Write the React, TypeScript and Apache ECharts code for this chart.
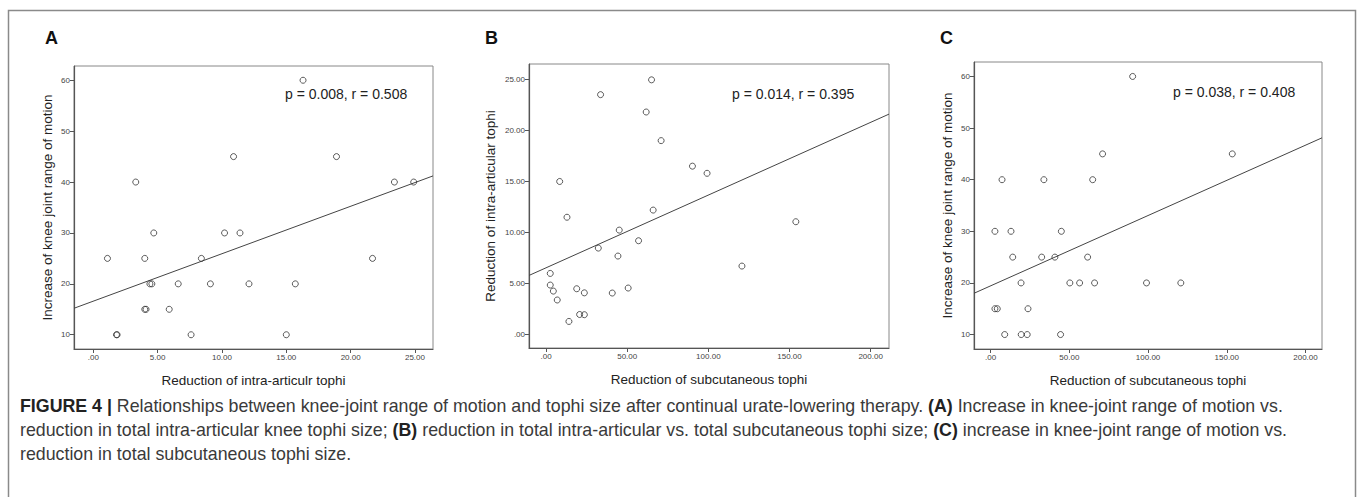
import React, { useEffect, useRef } from "react";
import * as echarts from "echarts";

// ---------- data ----------
const panelLetters = ["A", "B", "C"];

// Panel A: reduction of intra-articular tophi (x) vs increase of knee ROM (y)
const aX = [16.3, 10.9, 18.9, 3.3, 23.4, 24.9, 4.7, 10.2, 11.4, 1.1, 4.0, 8.4, 21.7, 4.4, 4.55, 6.6, 9.1, 12.1, 15.7, 4.0, 4.1, 5.9, 1.8, 1.85, 7.6, 15.0];
const aY = [60, 45, 45, 40, 40, 40, 30, 30, 30, 25, 25, 25, 25, 20, 20, 20, 20, 20, 20, 15, 15, 15, 10, 10, 10, 10];

// Panel B: reduction of subcutaneous tophi (x) vs reduction of intra-articular tophi (y)
const bX = [65, 33.6, 61.7, 70.9, 90.2, 99.2, 8.4, 12.9, 66, 153.9, 45.1, 57, 32.2, 44.3, 120.7, 2.6, 2.6, 4.5, 6.9, 18.9, 23.6, 40.8, 50.6, 20.7, 23.6, 14.1];
const bY = [24.95, 23.5, 21.8, 19.0, 16.5, 15.8, 15.0, 11.5, 12.2, 11.06, 10.24, 9.2, 8.48, 7.7, 6.72, 6.0, 4.86, 4.27, 3.4, 4.5, 4.1, 4.08, 4.57, 1.98, 1.96, 1.3];

// Panel C: reduction of subcutaneous tophi (x) vs increase of knee ROM (y)
const cX = [90.2, 71.1, 153.5, 7.2, 33.8, 64.8, 2.7, 12.9, 44.9, 14, 32.4, 40.8, 61.6, 19.3, 50.3, 56.5, 66, 99, 120.8, 2.7, 4.2, 23.7, 8.9, 19.4, 23.2, 44.4];
const cY = [60, 45, 45, 40, 40, 40, 30, 30, 30, 25, 25, 25, 25, 20, 20, 20, 20, 20, 20, 15, 15, 15, 10, 10, 10, 10];

// fitted regression lines: [intercept, slope]
const fitA = [16.6, 0.932];
const fitB = [6.55, 0.0712];
const fitC = [19.44, 0.1362];

const statsA = "p = 0.008, r = 0.508";
const statsB = "p = 0.014, r = 0.395";
const statsC = "p = 0.038, r = 0.408";

// axes
const xTicksA = [0, 5, 10, 15, 20, 25];
const xTickLabelsA = [".00", "5.00", "10.00", "15.00", "20.00", "25.00"];
const xRangeA = [-1.5, 26.4];
const yTicksKnee = [10, 20, 30, 40, 50, 60];
const yTickLabelsKnee = ["10", "20", "30", "40", "50", "60"];
const yRangeKnee = [7.2, 62.8];
const xTicksSub = [0, 50, 100, 150, 200];
const xTickLabelsSub = [".00", "50.00", "100.00", "150.00", "200.00"];
const xRangeB = [-10.5, 211.3];
const xRangeC = [-10.6, 210.5];
const yTicksB = [0, 5, 10, 15, 20, 25];
const yTickLabelsB = [".00", "5.00", "10.00", "15.00", "20.00", "25.00"];
const yRangeB = [-1.3, 26.5];

const nameKnee = "Increase of knee joint range of motion";
const nameIntraA = "Reduction of intra-articulr tophi";
const nameIntraB = "Reduction of intra-articular tophi";
const nameSub = "Reduction of subcutaneous tophi";

const captionLines = [
  ["{b|FIGURE 4 |} Relationships between knee-joint range of motion and tophi size after continual urate-lowering therapy. ", "{b|(A)}", " Increase in knee-joint range of motion vs."],
  ["reduction in total intra-articular knee tophi size; ", "{b|(B)}", " reduction in total intra-articular vs. total subcutaneous tophi size; ", "{b|(C)}", " increase in knee-joint range of motion vs."],
  ["reduction in total subcutaneous tophi size."],
];

const FONT = "'Liberation Sans', Arial, sans-serif";
const CAPFONT = "'Liberation Sans', Arial, sans-serif";

function pairs(xs: number[], ys: number[]) {
  return xs.map((x, i) => [x, ys[i]]);
}

function fitLine(fit: number[], range: number[]) {
  return range.map((x) => [x, fit[0] + fit[1] * x]);
}

function makeAxis(
  gridIndex: number,
  range: number[],
  ticks: number[],
  labels: string[],
  name: string,
  nameGap: number
) {
  return {
    type: "value",
    gridIndex,
    min: range[0],
    max: range[1],
    name,
    nameLocation: "middle",
    nameGap,
    nameTextStyle: { fontFamily: FONT, fontSize: 13.5, color: "#222" },
    axisLine: { show: true, onZero: false, lineStyle: { color: "#555", width: 1.2 } },
    axisTick: { show: true, length: 4, customValues: ticks, lineStyle: { color: "#555" } },
    axisLabel: {
      customValues: ticks,
      formatter: (v: number) => {
        const i = ticks.findIndex((t) => Math.abs(t - v) < 1e-9);
        return i >= 0 ? labels[i] : "";
      },
      fontFamily: FONT,
      fontSize: 8,
      color: "#444",
      margin: 4,
    },
    splitLine: { show: false },
  };
}

const grids = [
  { left: 74, top: 66, width: 359, height: 283 },
  { left: 529, top: 64, width: 360, height: 284 },
  { left: 974, top: 62, width: 348, height: 287 },
];

export default function App() {
  const ref = useRef<HTMLDivElement>(null);
  useEffect(() => {
    if (!ref.current) return;
    const chart = echarts.init(ref.current, undefined, { renderer: "svg" });
    const scatterStyle = {
      type: "scatter",
      symbol: "circle",
      symbolSize: 6,
      itemStyle: { color: "rgba(0,0,0,0)", borderColor: "#333", borderWidth: 1 },
      z: 3,
    };
    const lineStyle = {
      type: "line",
      showSymbol: false,
      symbol: "none",
      lineStyle: { color: "#444", width: 1 },
      z: 2,
    };
    const option: any = {
      animation: false,
      backgroundColor: "#fff",
      grid: grids.map((g) => ({ ...g, show: true, borderColor: "#888", borderWidth: 1, backgroundColor: "transparent" })),
      xAxis: [
        makeAxis(0, xRangeA, xTicksA, xTickLabelsA, nameIntraA, 24),
        makeAxis(1, xRangeB, xTicksSub, xTickLabelsSub, nameSub, 24),
        makeAxis(2, xRangeC, xTicksSub, xTickLabelsSub, nameSub, 24),
      ],
      yAxis: [
        makeAxis(0, yRangeKnee, yTicksKnee, yTickLabelsKnee, nameKnee, 20),
        makeAxis(1, yRangeB, yTicksB, yTickLabelsB, nameIntraB, 32),
        makeAxis(2, yRangeKnee, yTicksKnee, yTickLabelsKnee, nameKnee, 20),
      ],
      series: [
        { ...scatterStyle, xAxisIndex: 0, yAxisIndex: 0, data: pairs(aX, aY) },
        { ...lineStyle, xAxisIndex: 0, yAxisIndex: 0, data: fitLine(fitA, xRangeA) },
        { ...scatterStyle, xAxisIndex: 1, yAxisIndex: 1, data: pairs(bX, bY) },
        { ...lineStyle, xAxisIndex: 1, yAxisIndex: 1, data: fitLine(fitB, xRangeB) },
        { ...scatterStyle, xAxisIndex: 2, yAxisIndex: 2, data: pairs(cX, cY) },
        { ...lineStyle, xAxisIndex: 2, yAxisIndex: 2, data: fitLine(fitC, xRangeC) },
      ],
      graphic: [
        {
          type: "rect",
          shape: { x: 8.5, y: 10.5, width: 1347, height: 520 },
          style: { fill: "none", stroke: "#8a8a8a", lineWidth: 1.5 },
          silent: true,
        },
        ...panelLetters.map((t, i) => ({
          type: "text",
          left: [45, 485, 940][i],
          top: 29,
          style: { text: t, fontFamily: FONT, fontWeight: "bold", fontSize: 18, fill: "#111" },
        })),
        ...[statsA, statsB, statsC].map((t, i) => ({
          type: "text",
          left: [285, 732, 1173][i],
          top: [87, 87, 85][i],
          style: { text: t, fontFamily: FONT, fontSize: 14, fill: "#222" },
        })),
        ...captionLines.map((parts, i) => ({
          type: "text",
          left: 20,
          top: 397 + i * 24,
          style: {
            text: parts.join(""),
            fontFamily: CAPFONT,
            fontSize: 17.8,
            fill: "#3a3a3a",
            rich: {
              b: { fontFamily: CAPFONT, fontSize: 17.8, fontWeight: "bold", fill: "#222" },
            },
          },
        })),
      ],
    };
    chart.setOption(option);
    return () => chart.dispose();
  }, []);
  return (
    <div
      ref={ref}
      style={{ position: "fixed", left: 0, top: 0, width: 1358, height: 497, background: "#fff" }}
    />
  );
}
